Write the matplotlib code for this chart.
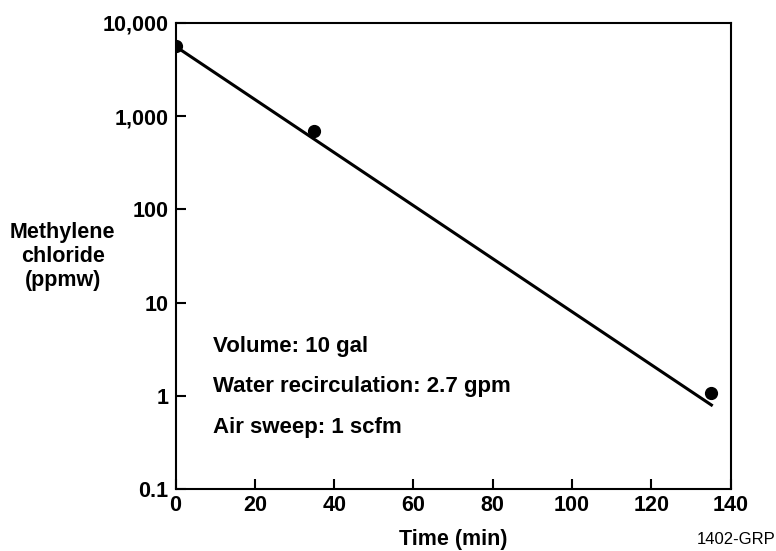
# Methylene chloride removal vs time (log scale)
import matplotlib
matplotlib.use('Agg')
import matplotlib.pyplot as plt
from matplotlib.ticker import FixedLocator, FuncFormatter, NullLocator

plt.rcParams['font.family'] = ['Liberation Sans', 'DejaVu Sans']

# measured points
time_min = [0, 35, 135]
conc_ppmw = [5700, 700, 1.07]

# fitted line endpoints
fit_time = [0, 135.5]
fit_conc = [5600, 0.78]

y_ticks = [0.1, 1, 10, 100, 1000, 10000]
x_ticks = [0, 20, 40, 60, 80, 100, 120, 140]

notes = ['Volume: 10 gal', 'Water recirculation: 2.7 gpm', 'Air sweep: 1 scfm']

FS = 15.5


def fmt(v, pos):
    if v < 1:
        return '%g' % v
    return '{:,.0f}'.format(v)


fig = plt.figure(figsize=(7.76, 5.51), dpi=100)
ax = fig.add_axes([0.2263, 0.1125, 0.7151, 0.8458])

ax.plot(fit_time, fit_conc, color='black', lw=2.2, solid_capstyle='butt')
ax.plot(time_min, conc_ppmw, 'o', color='black', ms=8.5)

ax.set_yscale('log')
ax.set_xlim(0, 140)
ax.set_ylim(0.1, 10000)
ax.yaxis.set_major_locator(FixedLocator(y_ticks))
ax.yaxis.set_minor_locator(NullLocator())
ax.yaxis.set_major_formatter(FuncFormatter(fmt))
ax.set_xticks(x_ticks)

for s in ax.spines.values():
    s.set_linewidth(1.5)

ax.tick_params(direction='in', length=7, width=1.5, labelsize=FS)
ax.tick_params(axis='x', pad=4)
ax.tick_params(axis='y', pad=5)
for lab in ax.get_xticklabels() + ax.get_yticklabels():
    lab.set_fontweight('bold')

fig.text(0.584, 0.02, 'Time (min)', ha='center', va='center',
         fontsize=FS, fontweight='bold')
fig.text(0.081, 0.535, 'Methylene\nchloride\n(ppmw)', ha='center', va='center',
         fontsize=FS, fontweight='bold', linespacing=1.2)

for i, t in enumerate(notes):
    ax.text(0.068, 0.305 - i * 0.086, t, transform=ax.transAxes, ha='left', va='center',
            fontsize=16, fontweight='bold')

fig.text(0.898, 0.02, '1402-GRP', ha='left', va='center', fontsize=12)

plt.savefig('out.png', dpi=100)
